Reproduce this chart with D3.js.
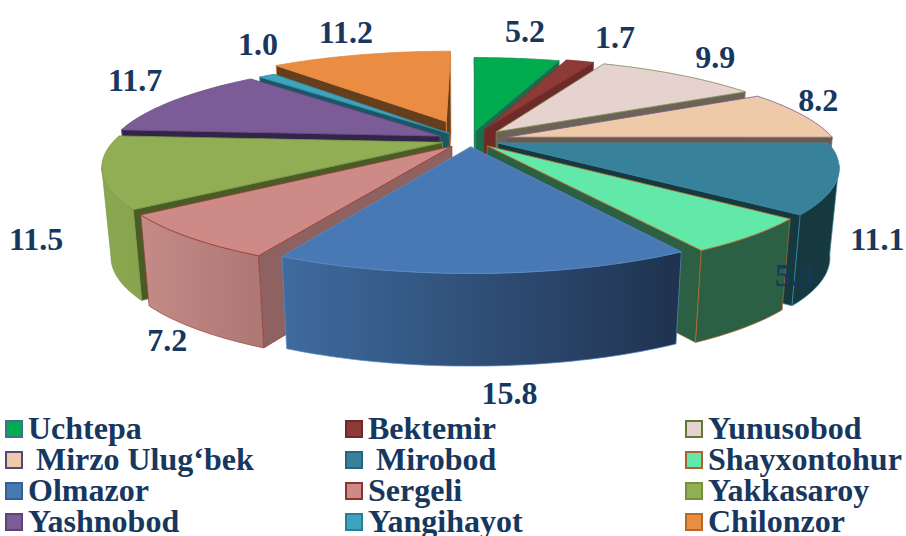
<!DOCTYPE html>
<html>
<head>
<meta charset="utf-8">
<script src="https://cdn.jsdelivr.net/npm/d3@7"></script>
<style>
  html, body { margin: 0; padding: 0; background: #fff; }
  text { font-family: "Liberation Serif", serif; font-weight: bold; fill: #17375e; }
</style>
</head>
<body>
<div id="chart"></div>
<script>
// Chart values
const districts = ["Uchtepa", "Bektemir", "Yunusobod", "Mirzo Ulug‘bek", "Mirobod", "Shayxontohur",
  "Olmazor", "Sergeli", "Yakkasaroy", "Yashnobod", "Yangihayot", "Chilonzor"];
const shares = [5.2, 1.7, 9.9, 8.2, 11.1, 5.5, 15.8, 7.2, 11.5, 11.7, 1.0, 11.2];

// Slice styling
const topColors = ["#00ac4e", "#8e3a36", "#e6d2cf", "#efcaa9", "#38819b", "#62e9aa",
  "#4879b4", "#cd8a87", "#92ae55", "#7b5c97", "#3fa3bd", "#ea8c41"];
const edgeColors = ["#1d8a5a", "#7a2f2c", "#7d8a52", "#75608c", "#3c8aa3", "#c0682c",
  "#5a8cc4", "#a03d3a", "#7d9a48", "#6a4d85", "#2f8ba5", "#e08a45"];
const wallColors = ["#16704c", "#6e2a28", "#6b6356", "#6b5a50", "#15393f", "#2b6045",
  "#2f4f78", "#8e6260", "#4a5c26", "#33254a", "#1d5565", "#653e1b"];
const wallLeft = ["#16704c", "#6e2a28", "#6b6356", "#6b5a50", "#15393f", "#2b6045",
  "#3f6b9f", "#c48b87", "#8aa850", "#33254a", "#1d5565", "#653e1b"];
const wallRight = ["#16704c", "#6e2a28", "#6b6356", "#6b5a50", "#17393f", "#2b6045",
  "#1f324f", "#ad7773", "#88a44e", "#33254a", "#1d5565", "#653e1b"];
const swatchEdges = ["#3f6f96", "#6e2a28", "#5f7a35", "#5a4578", "#27657a", "#b0602a",
  "#35608f", "#8e3330", "#74903c", "#5d4478", "#2a7d94", "#b56a2a"];

// How far each slice is pulled out, and where its label sits from the rim
const explode = [0.1, 0.12, 0.12, 0.116, 0.09, 0.08, 0.07, 0.085, 0.087, 0.102, 0.096, 0.22];
const labelNudge = [[8, -27], [35, -24], [36, -17], [16, -14], [40, 61], [43, 40],
  [25, 120], [-22, 103], [-66, 68], [-39, -20], [-9, -31], [-15, -22]];

const width = 906, height = 536;
const cx = 470, cy = 140, rx = 328, ry = 94, persp = 0.23, depth = 88;

// Perspective for the tilted pie. X right, Y towards viewer, z 0 = top, 1 = bottom
function project(X, Y, z) {
  const w = 1 - persp * Y;
  const k = 1 - 0.025 * z;
  return [cx + (rx * X / w) * k, cy + ry * Y / w + depth * z * (1 + 0.05 * Y)];
}

const svg = d3.select("#chart").append("svg")
  .attr("width", width)
  .attr("height", height);
const defs = svg.append("defs");

const slices = d3.pie().sort(null).value(d => d)(shares).map((d, i) => {
  d.i = i;
  d.mid = (d.startAngle + d.endAngle) / 2;
  d.off = explode[i];
  return d;
});

const line = d3.line();
const closed = pts => line(pts) + "Z";

function point(d, a, r, z) {
  const X = r * Math.sin(a) + d.off * Math.sin(d.mid);
  const Y = -r * Math.cos(a) - d.off * Math.cos(d.mid);
  return project(X, Y, z);
}

function arcPoints(d, a0, a1, z) {
  const n = Math.max(2, Math.ceil((a1 - a0) / 0.02));
  return d3.range(n + 1).map(k => point(d, a0 + (a1 - a0) * k / n, 1, z));
}

function radialWall(d, a) {
  return [point(d, a, 0, 0), point(d, a, 1, 0), point(d, a, 1, 1), point(d, a, 0, 1)];
}

// Back slices first
const order = slices.slice().sort((a, b) => Math.cos(b.mid) - Math.cos(a.mid));
// rim is only seen between its widest points on screen
const minA = Math.PI * 0.57, maxA = Math.PI * 1.42;

order.forEach(d => {
  const g = svg.append("g").attr("class", "slice");
  const i = d.i;

  // d3.polygonArea is negative for clockwise on screen
  const endWall = radialWall(d, d.endAngle);
  const startWall = radialWall(d, d.startAngle);
  if (d3.polygonArea(endWall) < 0) {
    g.append("path").attr("d", closed(endWall)).attr("fill", wallColors[i])
      .attr("stroke", edgeColors[i]).attr("stroke-width", 0.7);
  }
  if (d3.polygonArea(startWall) > 0) {
    g.append("path").attr("d", closed(startWall)).attr("fill", wallColors[i])
      .attr("stroke", edgeColors[i]).attr("stroke-width", 0.7);
  }

  const a0 = Math.max(d.startAngle, minA), a1 = Math.min(d.endAngle, maxA);
  if (a1 > a0) {
    const upper = arcPoints(d, a0, a1, 0);
    const lower = arcPoints(d, a0, a1, 1).reverse();
    const xs = d3.extent(upper.concat(lower), p => p[0]);
    const grad = defs.append("linearGradient")
      .attr("id", "wall" + i)
      .attr("gradientUnits", "userSpaceOnUse")
      .attr("x1", xs[0]).attr("x2", xs[1]).attr("y1", 0).attr("y2", 0);
    grad.append("stop").attr("offset", 0).attr("stop-color", wallLeft[i]);
    grad.append("stop").attr("offset", 1).attr("stop-color", wallRight[i]);
    g.append("path").attr("d", closed(upper.concat(lower)))
      .attr("fill", `url(#wall${i})`)
      .attr("stroke", edgeColors[i]).attr("stroke-width", 0.7);
  }

  const face = [point(d, 0, 0, 0)].concat(arcPoints(d, d.startAngle, d.endAngle, 0));
  g.append("path").attr("d", closed(face))
    .attr("fill", topColors[i])
    .attr("stroke", edgeColors[i]).attr("stroke-width", 0.8);
});

// Value labels, placed off the rim at the middle of each slice
svg.selectAll("text.value")
  .data(slices)
  .enter().append("text")
  .attr("class", "value")
  .attr("x", d => point(d, d.mid, 1, 0)[0] + labelNudge[d.i][0])
  .attr("y", d => point(d, d.mid, 1, 0)[1] + labelNudge[d.i][1])
  .attr("dy", "0.33em")
  .attr("text-anchor", "middle")
  .attr("font-size", 32)
  .text(d => d.data.toFixed(1));

// Legend, three columns
const col = d3.scalePoint().domain([0, 1, 2]).range([5, 685]);
const row = d3.scalePoint().domain([0, 1, 2, 3]).range([429, 522]);
const legend = svg.selectAll("g.legend")
  .data(districts)
  .enter().append("g")
  .attr("class", "legend")
  .attr("transform", (d, i) => `translate(${col(i % 3)},${row(Math.floor(i / 3))})`);

legend.append("rect")
  .attr("x", 1).attr("y", -8)
  .attr("width", 16).attr("height", 16)
  .attr("fill", (d, i) => topColors[i])
  .attr("stroke", (d, i) => swatchEdges[i])
  .attr("stroke-width", 2);

legend.append("text")
  .attr("x", d => (d === "Mirzo Ulug‘bek" || d === "Mirobod") ? 31 : 23)
  .attr("y", 10)
  .attr("font-size", 32)
  .text(d => d);
</script>
</body>
</html>
